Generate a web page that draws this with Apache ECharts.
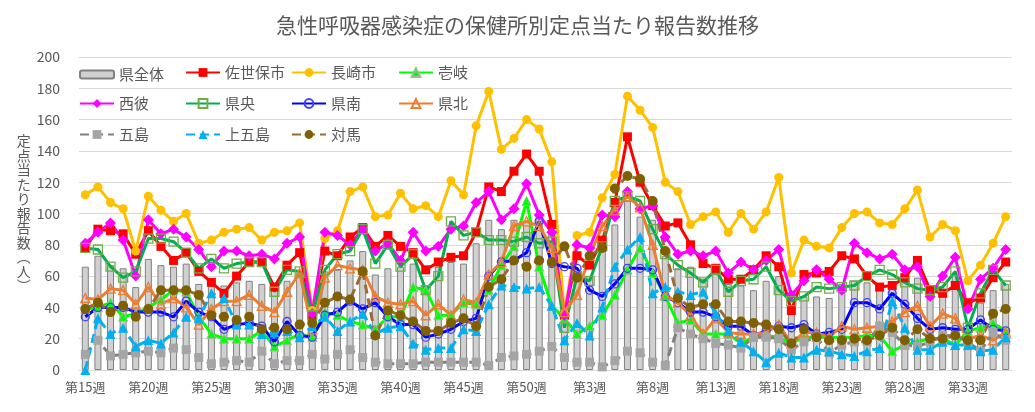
<!DOCTYPE html>
<html>
<head>
<meta charset="utf-8">
<script src="https://cdn.jsdelivr.net/npm/echarts@6/dist/echarts.min.js"></script>
<style>
html,body{margin:0;padding:0;background:#fff;}
#main{width:1035px;height:412px;}
</style>
</head>
<body>
<div id="main"></div>
<script>
// 週ラベル（第15週〜翌年第36週）
const weeks = ['第15週','第16週','第17週','第18週','第19週','第20週','第21週','第22週','第23週','第24週',
  '第25週','第26週','第27週','第28週','第29週','第30週','第31週','第32週','第33週','第34週',
  '第35週','第36週','第37週','第38週','第39週','第40週','第41週','第42週','第43週','第44週',
  '第45週','第46週','第47週','第48週','第49週','第50週','第51週','第52週','第1週','第2週',
  '第3週','第4週','第5週','第6週','第7週','第8週','第9週','第10週','第11週','第12週',
  '第13週','第14週','第15週','第16週','第17週','第18週','第19週','第20週','第21週','第22週',
  '第23週','第24週','第25週','第26週','第27週','第28週','第29週','第30週','第31週','第32週',
  '第33週','第34週','第35週','第36週'];

const kenzentai = [66,73,67,65,53,71,67,66,68,55, 55,54,56,57,55,51,57,62,32,63,
  64,70,76,61,65,66,68,54,66,69, 68,81,96,90,96,95,99,88,31,60,
  60,82,93,108,98,96,73,65,66,58, 62,55,54,51,57,60,40,47,47,46,
  55,57,56,51,56,60,59,51,52,61, 22,43,51,55];
const sasebo = [78,90,89,87,74,89,79,70,75,63, 56,49,60,69,69,53,67,75,35,76,
  73,85,91,79,86,79,75,64,69,72, 73,88,117,114,127,138,127,93,35,73,
  67,83,107,149,120,105,92,94,80,68, 65,58,58,64,73,66,38,61,62,63,
  73,71,60,53,54,59,70,51,49,54, 43,46,59,69];
const nagasaki = [112,117,107,103,76,111,102,95,100,81, 83,88,90,91,83,88,89,94,38,84,
  89,114,117,98,99,113,103,105,98,121, 112,156,178,141,148,160,154,133,36,86,
  88,110,125,175,166,155,120,114,93,98, 101,88,100,90,101,123,62,83,79,78,
  91,100,101,94,93,103,115,85,93,89, 57,67,81,98];
const iki = [39,40,43,34,36,40,45,51,50,34, 23,20,20,20,25,15,19,23,21,37,
  35,31,29,26,34,34,53,51,35,35, 43,42,51,67,79,108,66,41,33,23,
  28,35,48,64,78,62,47,30,32,23, 23,23,17,21,22,21,17,21,21,21,
  21,21,22,22,12,16,18,20,20,16, 25,27,30,25];
const seihi = [81,88,94,83,60,96,87,90,85,77, 66,76,76,73,74,71,81,85,36,88,
  86,80,90,76,81,70,88,76,79,90, 92,107,114,96,103,119,99,88,35,80,
  78,99,98,114,103,105,85,74,76,73, 76,62,69,64,70,77,48,57,64,58,
  51,81,75,71,74,64,66,47,60,72, 39,58,65,77];
const kenou = [78,77,66,59,63,84,84,82,75,65, 71,65,68,69,69,50,64,63,35,64,
  74,76,90,68,80,66,74,51,60,95, 86,88,83,83,82,85,81,82,27,60,
  57,79,108,111,108,90,74,67,62,56, 64,50,57,58,66,51,44,47,53,52,
  53,54,60,64,61,56,52,51,53,63, 27,49,64,54];
const kennan = [34,40,40,40,37,37,37,34,44,37, 34,26,29,30,28,18,31,22,21,35,
  37,44,39,43,34,29,29,21,23,26, 31,33,60,69,70,75,95,68,66,65,
  51,47,55,65,65,64,47,43,37,37, 34,28,28,22,25,28,27,29,23,24,
  26,43,43,39,49,42,33,26,27,26, 26,32,26,25];
const kenpoku = [46,45,52,51,42,53,42,46,40,29, 39,44,44,48,41,37,50,62,26,59,
  67,65,64,47,43,42,44,35,42,35, 45,43,61,69,92,95,92,78,37,48,
  73,92,102,111,104,80,48,43,35,23, 33,24,23,23,24,29,17,24,24,21,
  28,26,27,28,31,37,41,28,36,33, 20,22,19,24];
const goto = [10,19,9,10,11,12,11,14,13,8, 4,5,6,5,12,4,6,6,10,7,
  10,13,8,5,4,4,4,5,5,5, 5,5,3,8,9,10,12,15,8,5,
  5,2,6,12,11,5,3,27,23,20, 17,16,14,21,21,20,13,18,21,11,
  16,18,18,28,24,16,15,18,22,22, 18,12,24,19];
const kamigoto = [0,33,23,27,15,19,17,24,34,33, 49,46,29,29,23,24,25,21,28,34,
  25,31,36,23,27,28,17,13,14,14, 26,25,42,54,53,52,53,41,19,30,
  22,40,66,77,85,49,53,50,48,50, 36,25,18,12,5,11,8,8,13,12,
  10,9,12,14,44,27,13,13,18,16, 16,12,13,21];
const tsushima = [39,43,37,41,34,39,51,51,51,48, 35,34,32,34,26,27,26,29,30,43,
  47,45,63,22,38,35,31,25,25,30, 33,28,53,58,70,66,70,69,79,59,
  73,78,116,124,122,108,76,46,40,42, 42,31,31,30,29,26,17,26,21,19,
  19,20,19,22,27,19,26,20,20,22, 19,19,36,39];

const legendOrder = ['県全体','佐世保市','長崎市','壱岐','西彼','県央','県南','県北','五島','上五島','対馬'];

const chart = echarts.init(document.getElementById('main'));
const txt = '#595959';
const dash = [9, 5];

function lineSeries(name, data, color, symbol, size, opt) {
  opt = opt || {};
  return {
    name: name, type: 'line', data: data,
    symbol: symbol, symbolSize: size, showAllSymbol: true,
    lineStyle: {color: color, width: 3, type: opt.dashed ? dash : 'solid'},
    itemStyle: opt.hollow
      ? {color: 'rgba(255,255,255,0)', borderColor: opt.border || color, borderWidth: 1.3}
      : {color: opt.fill || color, borderColor: opt.border || color, borderWidth: opt.border ? 1 : 0},
    emphasis: {disabled: true},
    animation: false
  };
}

const series = [
  {name:'県全体', type:'bar', data: kenzentai, barWidth: 7,
   itemStyle:{color:'#D0D0D0', borderColor:'#808080', borderWidth:1}, animation:false},
  lineSeries('佐世保市', sasebo, '#FF0000', 'rect', 9),
  lineSeries('長崎市', nagasaki, '#FFC000', 'circle', 9),
  lineSeries('壱岐', iki, '#00FF00', 'triangle', 9, {border:'#9DBB9D'}),
  lineSeries('西彼', seihi, '#FF00FF', 'diamond', 11),
  lineSeries('県央', kenou, '#00B050', 'rect', 9, {hollow:true, border:'#70AD47'}),
  lineSeries('県南', kennan, '#0000FF', 'circle', 8, {hollow:true, border:'#4040FF'}),
  lineSeries('県北', kenpoku, '#ED7D31', 'triangle', 9, {hollow:true, border:'#ED7D31'}),
  lineSeries('五島', goto, '#808080', 'rect', 9, {dashed:true, fill:'#A5A5A5'}),
  lineSeries('上五島', kamigoto, '#00B0F0', 'triangle', 10, {dashed:true}),
  lineSeries('対馬', tsushima, '#9C6A35', 'circle', 10, {dashed:true, fill:'#7F6000'})
];

const colLeft = [79, 185, 291, 398];
const rowTop = [65, 96, 127];
const legends = legendOrder.map((n, i) => ({
  left: colLeft[i % 4], top: rowTop[Math.floor(i / 4)] + (i === 0 ? 2 : 0),
  data: [n], selectedMode: false, padding: 0,
  itemWidth: 34, itemHeight: i === 0 ? 8 : 11, itemGap: 0,
  textStyle: {color: txt, fontSize: 15, fontFamily: 'Noto Sans CJK JP', padding: [0,0,0,0]}
}));

chart.setOption({
  backgroundColor: '#fff',
  animation: false,
  title: {
    text: '急性呼吸器感染症の保健所別定点当たり報告数推移',
    left: 'center', top: 10,
    textStyle: {color: txt, fontSize: 21, fontWeight: 'normal', fontFamily: 'Noto Sans CJK JP'}
  },
  legend: legends,
  grid: {left: 79, right: 23, top: 57, bottom: 42},
  xAxis: {
    type: 'category', data: weeks, boundaryGap: true,
    axisLine: {lineStyle: {color: '#D9D9D9'}},
    axisTick: {show: false},
    axisLabel: {interval: 4, color: txt, fontSize: 13, fontFamily: 'Noto Sans CJK JP', margin: 11}
  },
  yAxis: {
    type: 'value', min: 0, max: 200, interval: 20,
    name: '定\n点\n当\nた\nり\n報\n告\n数\n︵\n人\n︶',
    nameLocation: 'middle', nameRotate: 0, nameGap: 47,
    nameTextStyle: {color: txt, fontSize: 14, lineHeight: 14.5, fontFamily: 'Noto Sans CJK JP'},
    axisLine: {show: false}, axisTick: {show: false},
    axisLabel: {color: txt, fontSize: 14, margin: 19, fontFamily: 'Noto Sans CJK JP'},
    splitLine: {lineStyle: {color: '#D9D9D9', width: 1}}
  },
  series: series
});
</script>
</body>
</html>
